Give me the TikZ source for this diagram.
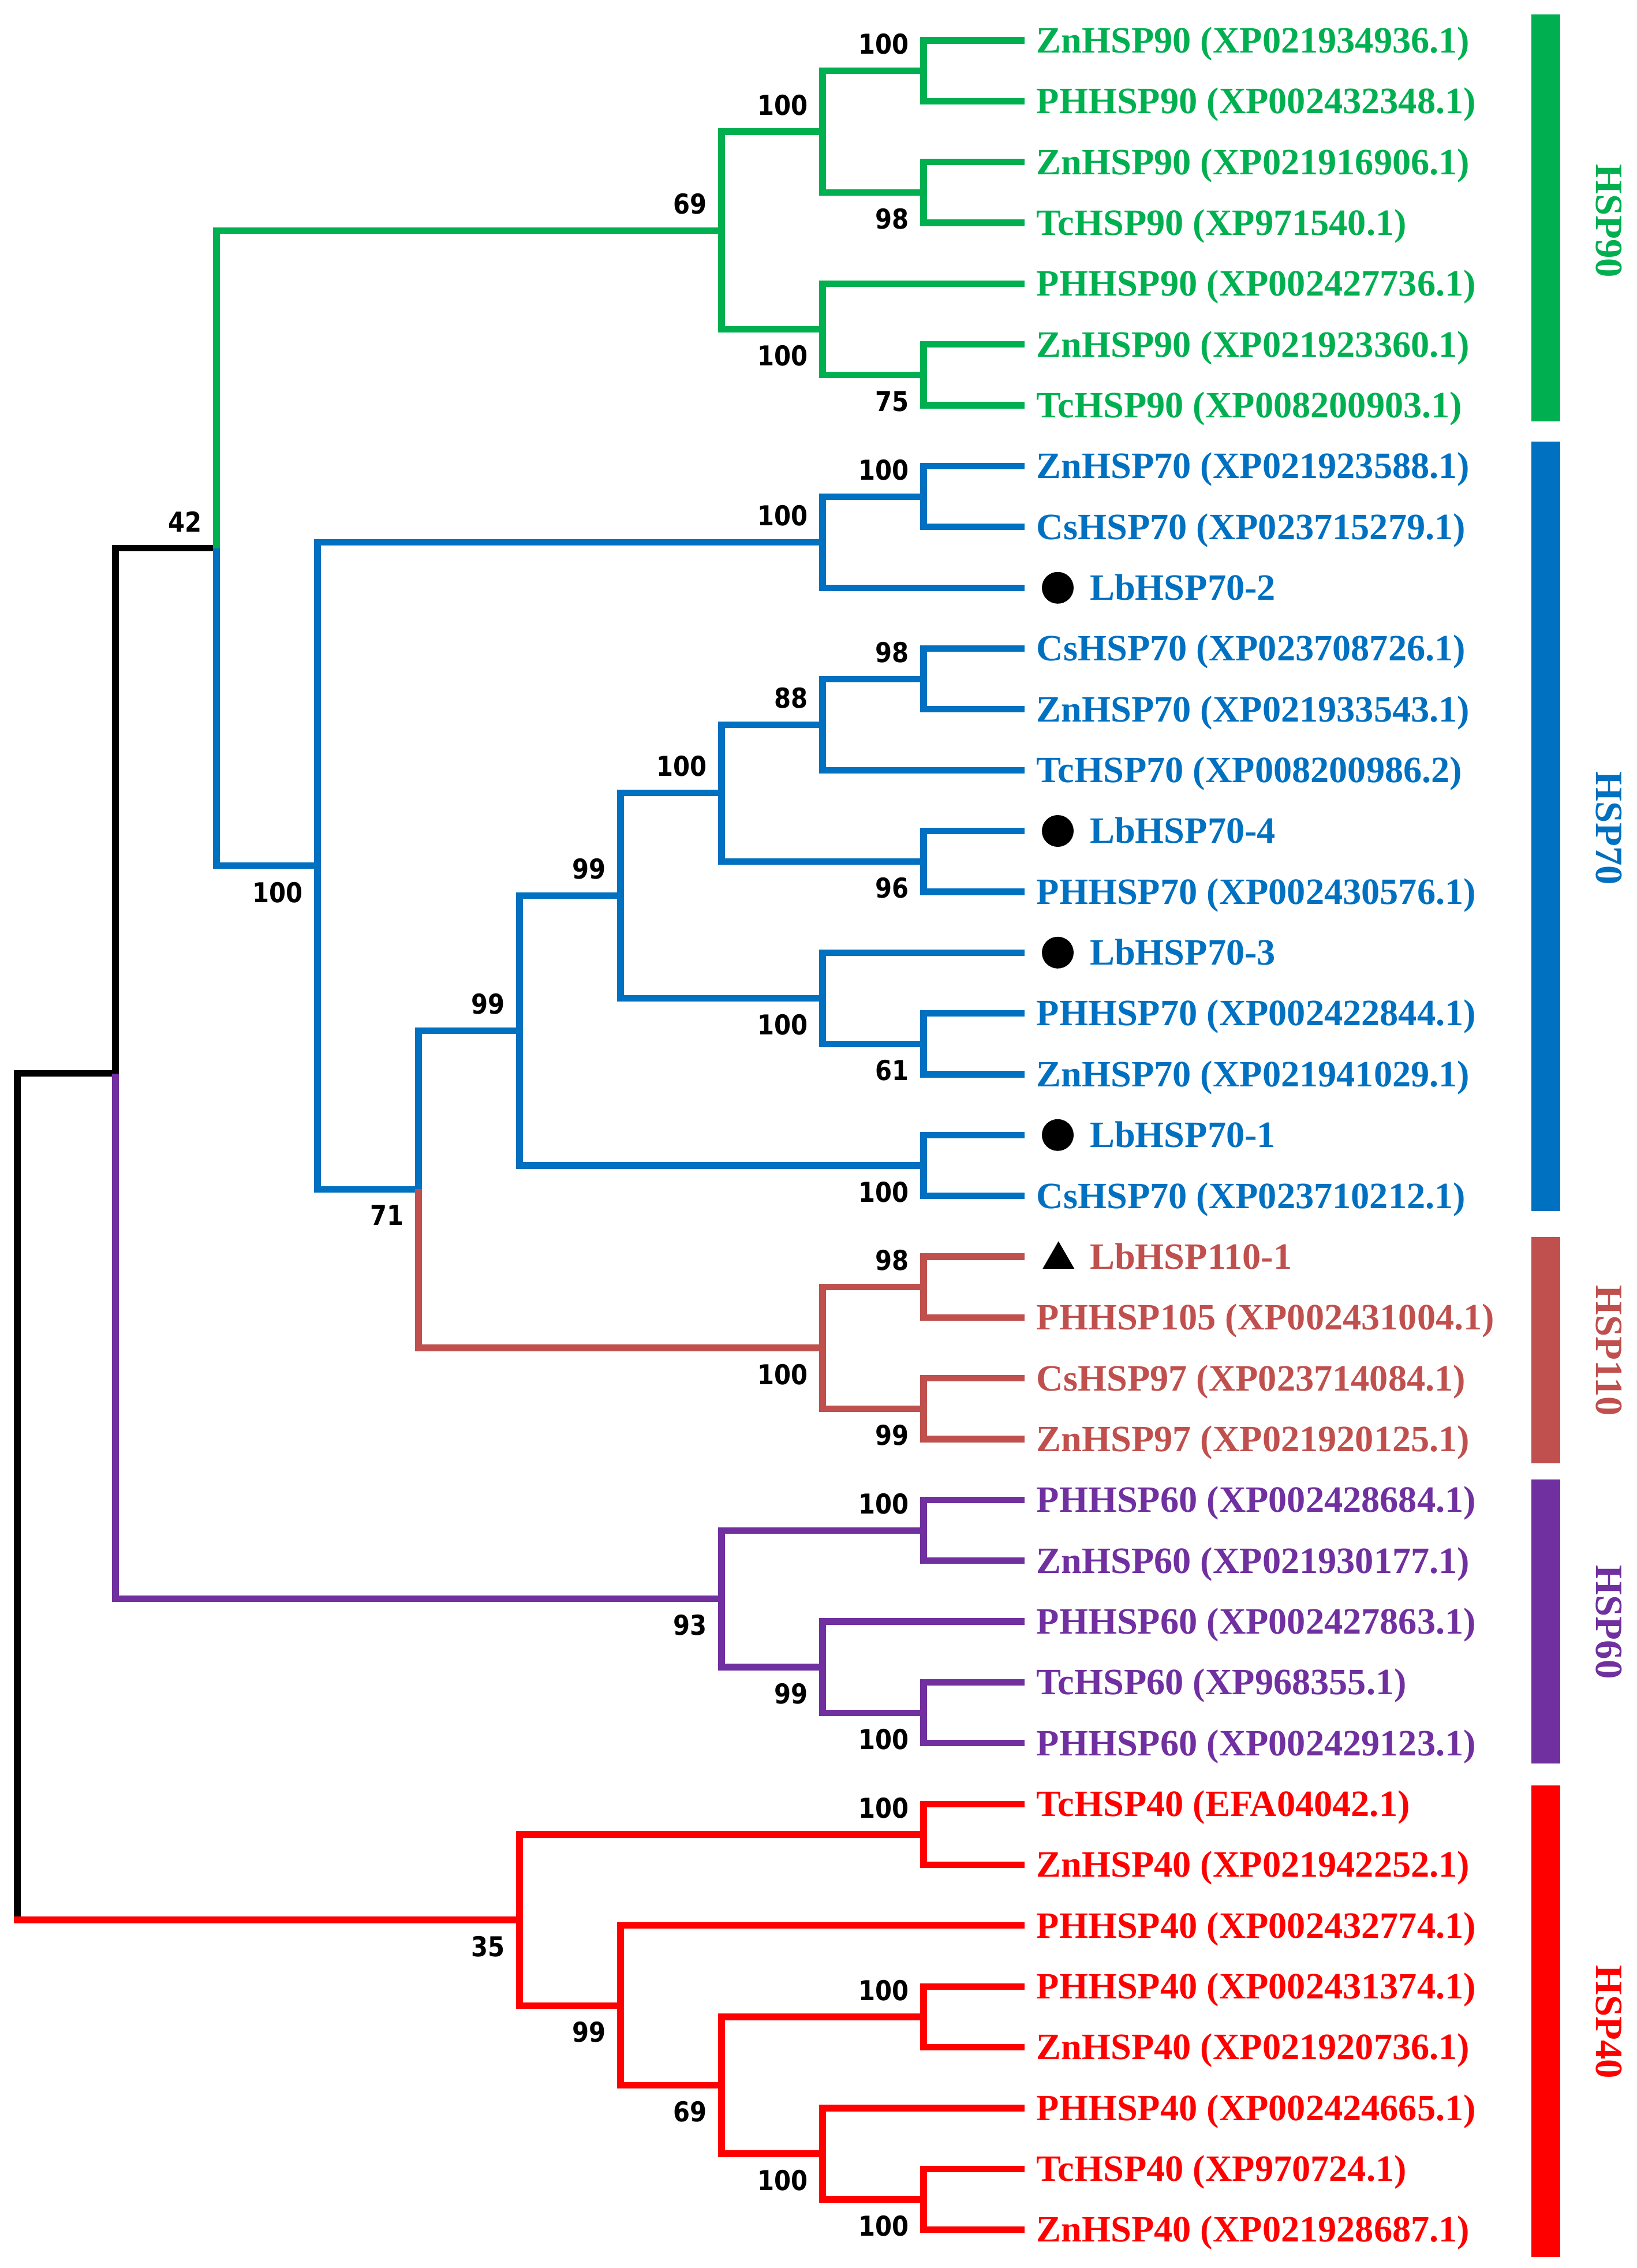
\documentclass[tikz,border=0pt]{standalone}
\usepackage{fontspec}
\setmainfont{Liberation Serif}
\newfontfamily\bsfont[FakeStretch=0.88]{DejaVu Sans}
\usetikzlibrary{calc,shapes.geometric}
\definecolor{c90}{RGB}{0,176,80}
\definecolor{c70}{RGB}{0,112,192}
\definecolor{c110}{RGB}{192,80,77}
\definecolor{c60}{RGB}{112,48,160}
\definecolor{c40}{RGB}{255,0,0}
\tikzset{
  br/.style={line width=3.2pt},
  leaf/.style={anchor=base west, inner sep=0pt, font=\bfseries\fontsize{18.3}{20}\selectfont},
  bsl/.style={inner sep=0pt, text=black, font=\bsfont\bfseries\fontsize{13.5}{15}\selectfont},
  grp/.style={inner sep=0pt, rotate=-90, font=\bfseries\fontsize{19}{21}\selectfont},
  dotmark/.style={circle, fill=black, inner sep=0pt, minimum size=0.55cm},
  trimark/.style={regular polygon, regular polygon sides=3, fill=black, inner sep=0pt, minimum size=0.635cm},
}
\newcommand\leafnode[4]{\coordinate (l#1) at (710,#2); \node[leaf,text=#3] (t#1) at (718,#2+8.5) {#4};}
\newcommand\markleaf[4]{\coordinate (l#1) at (710,#2); \node[dotmark] (m#1) at (733,#2) {}; \node[leaf,text=#3] (t#1) at (755,#2+8.5) {#4};}
\newcommand\bsup[2]{\node[bsl,anchor=south east] (bs#1) at ($(#1)+(-10,-11)$) {#2};}
\newcommand\bsdn[2]{\node[bsl,anchor=north east] (bs#1) at ($(#1)+(-10,11)$) {#2};}
\begin{document}
\begin{tikzpicture}[x=0.025cm,y=-0.025cm]
\useasboundingbox (0,0) rectangle (1134.4,1571.6);
% ---------- leaves ----------
\leafnode{1}{28.0}{c90}{ZnHSP90 (XP021934936.1)}
\leafnode{2}{70.1}{c90}{PHHSP90 (XP002432348.1)}
\leafnode{3}{112.3}{c90}{ZnHSP90 (XP021916906.1)}
\leafnode{4}{154.4}{c90}{TcHSP90 (XP971540.1)}
\leafnode{5}{196.6}{c90}{PHHSP90 (XP002427736.1)}
\leafnode{6}{238.7}{c90}{ZnHSP90 (XP021923360.1)}
\leafnode{7}{280.8}{c90}{TcHSP90 (XP008200903.1)}
\leafnode{8}{323.0}{c70}{ZnHSP70 (XP021923588.1)}
\leafnode{9}{365.1}{c70}{CsHSP70 (XP023715279.1)}
\markleaf{10}{407.3}{c70}{LbHSP70-2}
\leafnode{11}{449.4}{c70}{CsHSP70 (XP023708726.1)}
\leafnode{12}{491.5}{c70}{ZnHSP70 (XP021933543.1)}
\leafnode{13}{533.7}{c70}{TcHSP70 (XP008200986.2)}
\markleaf{14}{575.8}{c70}{LbHSP70-4}
\leafnode{15}{618.0}{c70}{PHHSP70 (XP002430576.1)}
\markleaf{16}{660.1}{c70}{LbHSP70-3}
\leafnode{17}{702.2}{c70}{PHHSP70 (XP002422844.1)}
\leafnode{18}{744.4}{c70}{ZnHSP70 (XP021941029.1)}
\markleaf{19}{786.5}{c70}{LbHSP70-1}
\leafnode{20}{828.7}{c70}{CsHSP70 (XP023710212.1)}
\coordinate (l21) at (710,870.8);
\node[trimark] (m21) at (733.5,872.8) {};
\node[leaf,text=c110] (t21) at (755,879.3) {LbHSP110-1};
\leafnode{22}{912.9}{c110}{PHHSP105 (XP002431004.1)}
\leafnode{23}{955.1}{c110}{CsHSP97 (XP023714084.1)}
\leafnode{24}{997.2}{c110}{ZnHSP97 (XP021920125.1)}
\leafnode{25}{1039.4}{c60}{PHHSP60 (XP002428684.1)}
\leafnode{26}{1081.5}{c60}{ZnHSP60 (XP021930177.1)}
\leafnode{27}{1123.6}{c60}{PHHSP60 (XP002427863.1)}
\leafnode{28}{1165.8}{c60}{TcHSP60 (XP968355.1)}
\leafnode{29}{1207.9}{c60}{PHHSP60 (XP002429123.1)}
\leafnode{30}{1250.1}{c40}{TcHSP40 (EFA04042.1)}
\leafnode{31}{1292.2}{c40}{ZnHSP40 (XP021942252.1)}
\leafnode{32}{1334.3}{c40}{PHHSP40 (XP002432774.1)}
\leafnode{33}{1376.5}{c40}{PHHSP40 (XP002431374.1)}
\leafnode{34}{1418.6}{c40}{ZnHSP40 (XP021920736.1)}
\leafnode{35}{1460.8}{c40}{PHHSP40 (XP002424665.1)}
\leafnode{36}{1502.9}{c40}{TcHSP40 (XP970724.1)}
\leafnode{37}{1545.0}{c40}{ZnHSP40 (XP021928687.1)}
% ---------- internal nodes ----------
\coordinate (g12) at (640,49.05);
\coordinate (g34) at (640,133.35);
\coordinate (g1234) at (570,91.2);
\coordinate (g67) at (640,259.75);
\coordinate (g567) at (570,228.2);
\coordinate (g69) at (500,159.7);
\coordinate (b89) at (640,344.05);
\coordinate (b8910) at (570,375.7);
\coordinate (b1112) at (640,470.45);
\coordinate (b111213) at (570,502.1);
\coordinate (b1415) at (640,596.9);
\coordinate (b11to15) at (500,549.5);
\coordinate (b1718) at (640,723.3);
\coordinate (b161718) at (570,691.7);
\coordinate (b11to18) at (430,620.6);
\coordinate (b1920) at (640,807.6);
\coordinate (b11to20) at (360,714.1);
\coordinate (r2122) at (640,891.85);
\coordinate (r2324) at (640,976.15);
\coordinate (r110) at (570,934.0);
\coordinate (n71) at (290,824.05);
\coordinate (n100b) at (220,599.9);
\coordinate (B) at (150,379.8);
\coordinate (p2526) at (640,1060.45);
\coordinate (p2829) at (640,1186.85);
\coordinate (p272829) at (570,1155.2);
\coordinate (p93) at (500,1107.8);
\coordinate (A) at (80,743.8);
\coordinate (h3031) at (640,1271.15);
\coordinate (h3334) at (640,1397.55);
\coordinate (h3637) at (640,1523.95);
\coordinate (h353637) at (570,1492.4);
\coordinate (h69) at (500,1445.0);
\coordinate (h99) at (430,1389.65);
\coordinate (h35) at (360,1330.4);
\coordinate (root) at (12,1037.1);
\coordinate (rootb) at (12,1330.4);
% ---------- branches ----------
\draw[br] (root) |- (A);
\draw[br] (root) -- (rootb);
\draw[br] (A) |- (B);
\foreach \p/\c in {B/g69, g69/g1234, g69/g567, g1234/g12, g1234/g34, g12/l1, g12/l2, g34/l3, g34/l4, g567/l5, g567/g67, g67/l6, g67/l7}
  \draw[br,c90] (\p) |- (\c);
\foreach \p/\c in {B/n100b, n100b/b8910, n100b/n71, b8910/b89, b8910/l10, b89/l8, b89/l9, n71/b11to20, b11to20/b11to18, b11to20/b1920, b11to18/b11to15, b11to18/b161718, b11to15/b111213, b11to15/b1415, b111213/b1112, b111213/l13, b1112/l11, b1112/l12, b1415/l14, b1415/l15, b161718/l16, b161718/b1718, b1718/l17, b1718/l18, b1920/l19, b1920/l20}
  \draw[br,c70] (\p) |- (\c);
\foreach \p/\c in {n71/r110, r110/r2122, r110/r2324, r2122/l21, r2122/l22, r2324/l23, r2324/l24}
  \draw[br,c110] (\p) |- (\c);
\foreach \p/\c in {A/p93, p93/p2526, p93/p272829, p2526/l25, p2526/l26, p272829/l27, p272829/p2829, p2829/l28, p2829/l29}
  \draw[br,c60] (\p) |- (\c);
\draw[br,c40,line cap=rect] (rootb) -- (h35);
\foreach \p/\c in {h35/h3031, h35/h99, h3031/l30, h3031/l31, h99/l32, h99/h69, h69/h3334, h69/h353637, h3334/l33, h3334/l34, h353637/l35, h353637/h3637, h3637/l36, h3637/l37}
  \draw[br,c40] (\p) |- (\c);
% ---------- bootstrap values ----------
\bsup{g12}{100} \bsup{g1234}{100} \bsup{g69}{69} \bsup{B}{42}
\bsup{b89}{100} \bsup{b8910}{100} \bsup{b1112}{98} \bsup{b111213}{88}
\bsup{b11to15}{100} \bsup{b11to18}{99} \bsup{b11to20}{99} \bsup{r2122}{98}
\bsup{p2526}{100} \bsup{h3031}{100} \bsup{h3334}{100}
\bsdn{g34}{98} \bsdn{g567}{100} \bsdn{g67}{75} \bsdn{n100b}{100} \bsdn{n71}{71}
\bsdn{b1415}{96} \bsdn{b161718}{100} \bsdn{b1718}{61} \bsdn{b1920}{100}
\bsdn{r110}{100} \bsdn{r2324}{99} \bsdn{p93}{93} \bsdn{p272829}{99} \bsdn{p2829}{100}
\bsdn{h35}{35} \bsdn{h99}{99} \bsdn{h69}{69} \bsdn{h353637}{100} \bsdn{h3637}{100}
% ---------- group bars ----------
\fill[c90] (1061,10) rectangle (1081,292);
\fill[c70] (1061,306) rectangle (1081,839);
\fill[c110] (1061,857) rectangle (1081,1014);
\fill[c60] (1061,1025) rectangle (1081,1222);
\fill[c40] (1061,1237) rectangle (1081,1564);
\node[grp,text=c90] (G90) at (1115,153) {HSP90};
\node[grp,text=c70] (G70) at (1115,574) {HSP70};
\node[grp,text=c110] (G110) at (1115,936) {HSP110};
\node[grp,text=c60] (G60) at (1115,1124) {HSP60};
\node[grp,text=c40] (G40) at (1115,1401) {HSP40};
\end{tikzpicture}
\end{document}
